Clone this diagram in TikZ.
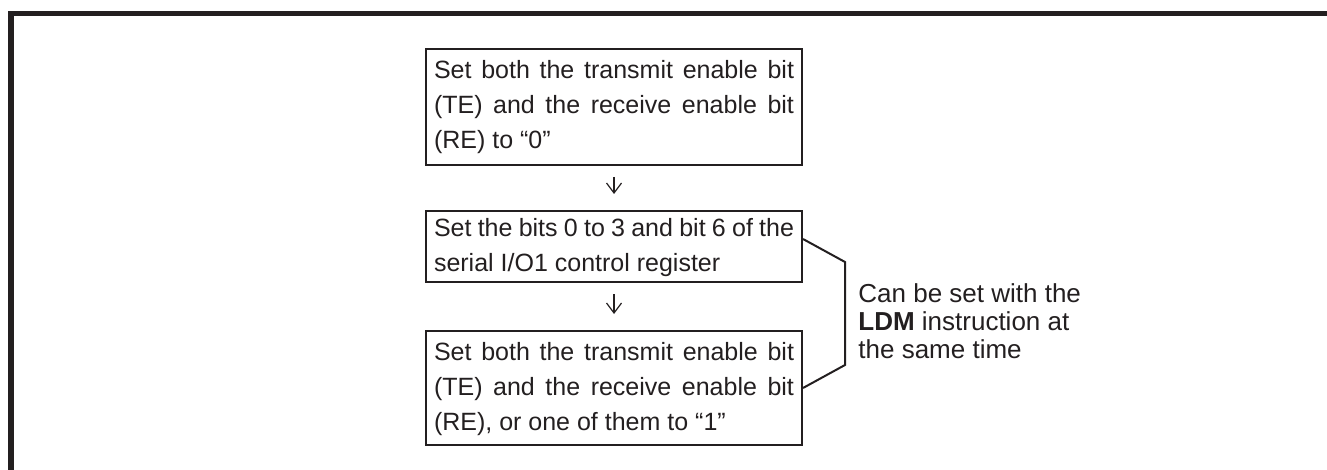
\documentclass[tikz,border=0pt]{standalone}
\usepackage{fontspec}
\setmainfont{Liberation Sans}
\usepackage{tikz}
\usetikzlibrary{arrows.meta}
\definecolor{ink}{RGB}{35,31,32}
\tikzset{stepbox/.style={draw=ink,line width=1pt,text=ink,text width=180pt,inner xsep=4pt,
 inner ysep=0pt,align=justify,font=\fontsize{12.5pt}{17.5pt}\selectfont},
 flow/.style={-{Straight Barb[length=5pt,width=7.5pt]},ink,line width=.6pt,shorten <=5.5pt,shorten >=8pt},
 bracket/.style={ink,line width=1pt},
 note/.style={text=ink,align=left,inner sep=0pt,font=\fontsize{13pt}{14pt}\selectfont}}

\begin{document}
\begin{tikzpicture}[x=.5pt,y=-.5pt]
\useasboundingbox (0,0) rectangle (1327,470);
\draw[ink,line width=2.75pt] (1327,13.5)--(11,13.5)--(11,470);
\node[stepbox,minimum height=58pt] (te0) at (614,107)
 {\strut Set both the transmit enable bit\linebreak (TE) and the receive enable bit\linebreak (RE) to “0”\strut};
\node[stepbox,minimum height=35.5pt] (sio) at (614,246.5)
 {\strut Set the bits 0 to 3 and bit 6 of the\linebreak serial I/O1 control register\strut};
\node[stepbox,minimum height=57pt] (te1) at (614,388)
 {\strut Set both the transmit enable bit\linebreak (TE) and the receive enable bit\linebreak (RE), or one of them to “1”\strut};
\draw[flow] (te0)--(sio);
\draw[flow] (sio)--(te1);
\coordinate (brtop) at (845,262);
\coordinate (brbot) at (845,365);
\draw[bracket] ([yshift=3.75pt]sio.east)--(brtop)--(brbot)--(te1.east);
\node[note,anchor=north west] (ldm) at (858,283)
 {Can be set with the\\\textbf{LDM} instruction at\\the same time};
\end{tikzpicture}
\end{document}
